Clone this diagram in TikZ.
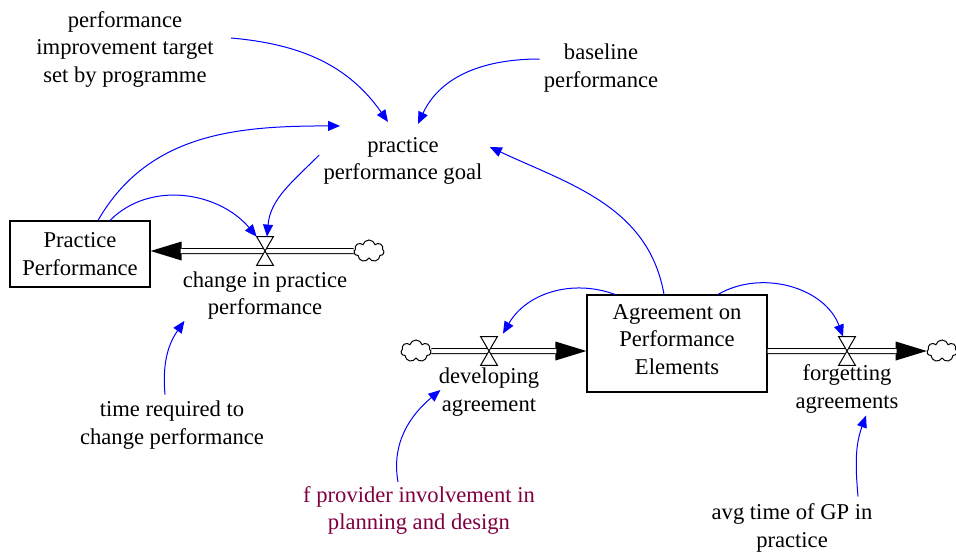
\documentclass[tikz,border=0pt]{standalone}
\usepackage{fontspec}
\setmainfont{Liberation Serif}
\usepackage{tikz}
\usetikzlibrary{positioning}
\usetikzlibrary{shapes.symbols}
\usetikzlibrary{arrows.meta}

\definecolor{linkblue}{RGB}{0,0,255}
\definecolor{shadowred}{RGB}{128,0,64}

\tikzset{
	stock/.style  = {draw, line width=0.6pt, align=center, inner sep=2pt},
	valve/.style  = {inner sep=0pt, minimum width=8pt, minimum height=14pt},
	source/.style = {cloud, draw, cloud puffs=7, aspect=1.4, inner sep=0pt,
	                 minimum width=15pt, minimum height=11pt, line width=0.5pt},
	lbl/.style    = {align=center, inner sep=2pt},
	link/.style   = {linkblue, line width=0.5pt, -{Triangle[length=6pt, width=5pt]}},
	pipe/.style   = {line width=3pt, -{Triangle[length=15.5pt, width=9.5pt, line width=0pt]}},
	pipein/.style = {white, line width=2pt, shorten >=15pt}
}

\begin{document}
\begin{tikzpicture}[x=0.5pt, y=0.5pt, on grid,                               % one unit = one pixel
	                    font=\fontsize{11.3}{13.75}\selectfont]
	\useasboundingbox (0,0) rectangle (956,-552);
	% stocks
	\node[stock, minimum width=70pt, minimum height=33pt] (PP) at (80,-254) {Practice\\Performance};
	\node[stock, minimum width=90pt, minimum height=48.5pt, text depth=4pt] (AEP) at (677,-343.5) {Agreement on\\Performance\\Elements};
	% valves and clouds
	\node[valve] (vChange) at (265,-251) {};
	\node[valve] (vDev) at (489,-351) {};
	\node[valve] (vForget) at (847,-351) {};
	\node[source] (srcChange) [right=52pt of vChange] {};
	\node[source] (srcDev) [left=36.5pt of vDev] {};
	\node[source] (sinkForget) [right=47.5pt of vForget] {};
	% pipes
	\draw[pipe] (srcChange) -- (PP.east |- vChange);
	\draw[pipein] (srcChange) -- (PP.east |- vChange);
	\draw[pipe] (srcDev) -- (AEP.west |- vDev);
	\draw[pipein] (srcDev) -- (AEP.west |- vDev);
	\draw[pipe] (AEP.east |- vForget) -- (sinkForget);
	\draw[pipein] (AEP.east |- vForget) -- (sinkForget);
	\foreach \v in {vChange, vDev, vForget}
		\draw[fill=white, line width=0.5pt] (\v.north west) -- (\v.north east) -- (\v.south west) -- (\v.south east) -- cycle;
	% flow names
	\node[lbl] (lChange) [below=22.25pt of vChange] {change in practice\\performance};
	\node[lbl] (lDev) [below=20.5pt of vDev] {developing\\agreement};
	\node[lbl] (lForget) [below=19pt of vForget] {forgetting\\agreements};
	% auxiliaries
	\node[lbl] (goal) at (403,-161) {practice\\performance goal};
	\node[lbl] (PIT) at (125,-49) {performance\\improvement target\\set by programme};
	\node[lbl] (base) at (601,-68) {baseline\\performance};
	\node[lbl] (treq) at (172,-425) {time required to\\change performance};
	\node[lbl, text=shadowred] (fprov) at (419,-510.5) {f provider involvement in\\planning and design};
	\node[lbl] (avg) at (792,-528) {avg time of GP in\\practice};
	% links
	\draw[link] ([xshift=6.5pt,yshift=5.5pt]PIT.east) to[out=-5, in=125] ([xshift=-7.5pt,yshift=5.5pt]goal.north);
	\draw[link] ([yshift=4.5pt]base.west) to[out=180, in=65] ([xshift=7.5pt,yshift=4.5pt]goal.north);
	\draw[link] ([xshift=9pt]PP.north) to[out=60, in=180] ([xshift=-31.5pt,yshift=3.5pt]goal.north);
	\draw[link] ([xshift=15pt]PP.north) to[out=45, in=130] (vChange.north west);
	\draw[link] ([yshift=3pt]goal.west) to[out=-135, in=85] ([xshift=1pt]vChange.north);
	\draw[link] ([xshift=-6.5pt]AEP.north) to[out=100, in=-25] ([xshift=1.5pt,yshift=7pt]goal.east);
	\draw[link] ([xshift=-31pt]AEP.north) to[out=160, in=60] ([xshift=7pt,yshift=1.5pt]vDev.north);
	\draw[link] ([xshift=20.5pt]AEP.north) to[out=30, in=110] ([xshift=-2pt]vForget.north);
	\draw[link] ([xshift=-3.5pt,yshift=1pt]treq.north) to[out=95, in=235] ([xshift=3pt,yshift=1.5pt]lChange.south west);
	\draw[link] ([xshift=-10.5pt]fprov.north) to[out=100, in=220] ([xshift=3pt,yshift=1pt]lDev.west);
	\draw[link] ([xshift=33pt,yshift=1.5pt]avg.north) to[out=95, in=250] ([xshift=9.5pt,yshift=1pt]lForget.south);
\end{tikzpicture}
\end{document}
